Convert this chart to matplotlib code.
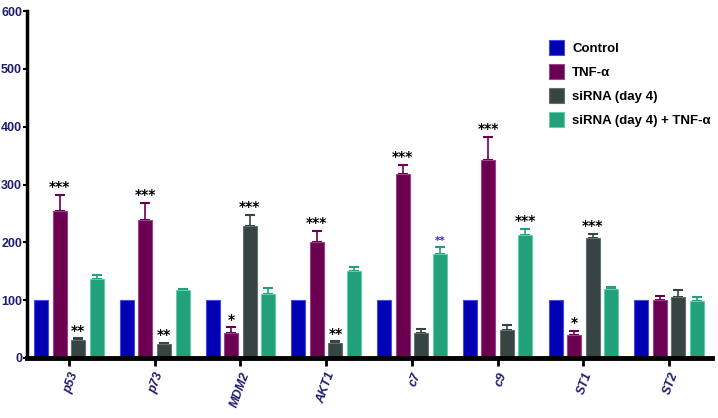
import numpy as np
import matplotlib.pyplot as plt

# 数据
genes = ['p53', 'p73', 'MDM2', 'AKT1', 'c7', 'c9', 'ST1', 'ST2']
series_names = ['Control', 'TNF-α', 'siRNA (day 4)', 'siRNA (day 4) + TNF-α']
control = [100, 100, 100, 100, 100, 100, 100, 100]
tnf = [255, 239, 43, 201, 318, 342, 40, 101]
sirna = [31, 24, 228, 26, 44, 48, 208, 106]
combo = [136, 117, 111, 150, 180, 213, 120, 99]
control_err = [0, 0, 0, 0, 0, 0, 0, 0]
tnf_err = [27, 29, 10, 19, 16, 40, 7, 6]
sirna_err = [3, 2, 20, 3, 6, 9, 7, 11]
combo_err = [7, 2, 10, 8, 12, 10, 3, 6]
# 显著性标记 (系列序号, 基因序号, 文本, 颜色)
stars = [
    (1, 0, '***', 'black'), (2, 0, '**', 'black'),
    (1, 1, '***', 'black'), (2, 1, '**', 'black'),
    (1, 2, '*', 'black'), (2, 2, '***', 'black'),
    (1, 3, '***', 'black'), (2, 3, '**', 'black'),
    (1, 4, '***', 'black'), (3, 4, '**', '#3030e0'),
    (1, 5, '***', 'black'), (3, 5, '***', 'black'),
    (1, 6, '*', 'black'), (2, 6, '***', 'black'),
]

colors = ['#0000b4', '#6b0050', '#384444', '#22a07a']
edges = ['#4a4ae0', '#a04090', '#607070', '#60d0a8']

fig = plt.figure(figsize=(7.18, 4.18), dpi=100)
ax = fig.add_axes([27 / 718, 60 / 418, 685 / 718, 347 / 418])

values = [control, tnf, sirna, combo]
errors = [control_err, tnf_err, sirna_err, combo_err]
x = np.arange(len(genes))
w = 0.163
step = 0.216
for i in range(4):
    pos = x + (i - 1.5) * step
    ax.bar(pos, values[i], width=w, color=colors[i], edgecolor=edges[i],
           linewidth=0.8, label=series_names[i], zorder=2)
    err = np.array(errors[i])
    mask = err > 0
    ax.errorbar(pos[mask], np.array(values[i])[mask],
                yerr=[np.zeros(mask.sum()), err[mask]],
                fmt='none', ecolor=colors[i], elinewidth=1.2,
                capsize=3.5, capthick=1.5, zorder=1)

for si, gi, txt, col in stars:
    top = values[si][gi] + errors[si][gi]
    ax.text(x[gi] + (si - 1.5) * step, top + 1, txt, ha='center', va='bottom',
            fontsize=10 if col == 'black' else 7.5, fontweight='bold', color=col)

ax.set_xlim(-0.49, 7.5)
ax.set_ylim(0, 600)
ax.set_yticks(range(0, 601, 100))
ax.set_xticks(x)
ax.set_xticklabels(genes, rotation=70, ha='right', va='top', rotation_mode='anchor',
                   style='italic', fontweight='bold', color='#1c1c70',
                   family=['Liberation Sans', 'DejaVu Sans'], fontsize=9)
for lab in ax.get_yticklabels():
    lab.set_family(['Liberation Sans', 'DejaVu Sans'])
    lab.set_fontweight('bold')
    lab.set_color('#1c1c70')
    lab.set_fontsize(9)

for s in ['top', 'right']:
    ax.spines[s].set_visible(False)
ax.spines['left'].set_linewidth(2.5)
ax.spines['bottom'].set_linewidth(3.5)
ax.tick_params(axis='x', length=6, width=2, direction='out', pad=3)
ax.tick_params(axis='y', length=3, width=1.5, direction='out', pad=0.5)
ax.axhline(0, color='#2020ff', lw=0.8, zorder=3)

leg = ax.legend(loc='upper left', bbox_to_anchor=(0.745, 0.95), frameon=False,
                handlelength=1.15, handleheight=1.4, handletextpad=0.6,
                labelspacing=0.65, prop={'weight': 'bold', 'size': 9.5,
                                         'family': ['Liberation Sans', 'DejaVu Sans']})

fig.savefig('out.png', dpi=100)
